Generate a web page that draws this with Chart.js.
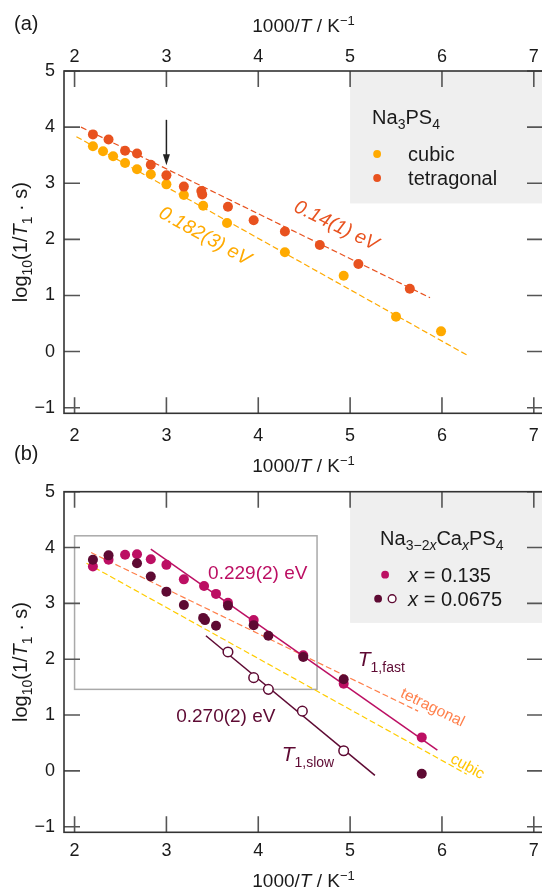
<!DOCTYPE html>
<html>
<head>
<meta charset="utf-8">
<script src="https://cdn.jsdelivr.net/npm/chart.js@4.4.1/dist/chart.umd.min.js"></script>
<style>
  html, body { margin: 0; padding: 0; background: #fff; overflow: hidden; width: 542px; height: 890px; }
  canvas { position: absolute; left: 0; }
  #chartA { top: 0; }
  #chartB { top: 440px; }
</style>
</head>
<body>
<canvas id="chartA" width="560" height="460"></canvas>
<canvas id="chartB" width="560" height="450"></canvas>
<script>
const xTicks = [2, 3, 4, 5, 6, 7];
const yTicks = [-1, 0, 1, 2, 3, 4, 5];

// (a) Na3PS4, log10(1/T1) against 1000/T
const cubicX = [2.20, 2.31, 2.42, 2.55, 2.68, 2.83, 3.00, 3.19, 3.40, 3.66, 4.29, 4.93, 5.50, 5.99];
const cubicY = [3.66, 3.57, 3.48, 3.36, 3.25, 3.16, 2.98, 2.79, 2.60, 2.29, 1.77, 1.35, 0.62, 0.36];
const tetraX = [2.20, 2.37, 2.55, 2.68, 2.83, 3.00, 3.19, 3.38, 3.39, 3.67, 3.95, 4.29, 4.67, 5.09, 5.65];
const tetraY = [3.87, 3.78, 3.58, 3.53, 3.33, 3.14, 2.94, 2.86, 2.80, 2.58, 2.34, 2.14, 1.90, 1.56, 1.12];
const cubicFitX = [2.02, 6.27];
const cubicFitY = [3.83, -0.06];
const tetraFitX = [2.07, 5.87];
const tetraFitY = [4.00, 0.96];
const arrowX = [3.0, 3.0];
const arrowY = [4.13, 3.32];

// (b) Na3-2xCaxPS4
const x135X = [2.20, 2.37, 2.55, 2.68, 2.83, 3.00, 3.19, 3.41, 3.54, 3.67, 3.95, 4.49, 4.93, 5.78];
const x135Y = [3.66, 3.78, 3.87, 3.88, 3.79, 3.69, 3.43, 3.31, 3.17, 3.01, 2.70, 2.07, 1.56, 0.60];
const x0675FastX = [2.20, 2.37, 2.68, 2.83, 3.00, 3.19, 3.40, 3.42, 3.54, 3.67, 3.95, 4.11, 4.49, 4.93, 5.78];
const x0675FastY = [3.78, 3.86, 3.72, 3.48, 3.21, 2.97, 2.74, 2.70, 2.60, 2.96, 2.61, 2.42, 2.04, 1.64, -0.05];
const x0675SlowX = [3.67, 3.95, 4.11, 4.48, 4.93];
const x0675SlowY = [2.13, 1.67, 1.46, 1.07, 0.36];
const fastFitX = [2.83, 5.95];
const fastFitY = [3.97, 0.37];
const slowFitX = [3.43, 5.27];
const slowFitY = [2.42, -0.08];
const tetraRefX = [2.18, 5.74];
const tetraRefY = [3.91, 1.07];
const cubicRefX = [2.13, 6.27];
const cubicRefY = [3.72, -0.06];

const FONT = '"Liberation Sans", Arial, Helvetica, sans-serif';
const INK = '#1a1a1a';
const C_CUBIC = '#ffaa00';
const C_TETRA = '#e8521f';
const C_X135 = '#bc0f63';
const C_X0675 = '#5e0a33';

const pts = (xs, ys) => xs.map((v, i) => ({ x: v, y: ys[i] }));

function dots(data, color, extra) {
  return Object.assign({
    data, showLine: false, pointRadius: 5, pointHoverRadius: 5,
    pointBackgroundColor: color, pointBorderColor: color, pointBorderWidth: 0
  }, extra);
}

function fitLine(data, color, dash, width) {
  return { data, showLine: true, borderColor: color, borderWidth: width, borderDash: dash, pointRadius: 0, fill: false };
}

// text made of runs (sub/superscripts, italics) on one baseline
function rich(ctx, parts, x, y, align, color) {
  const fontOf = p => `${p.it ? 'italic ' : ''}${p.size || 20}px ${FONT}`;
  let w = 0;
  parts.forEach(p => { ctx.font = fontOf(p); p.w = ctx.measureText(p.t).width; w += p.w; });
  let cx = align === 'center' ? x - w / 2 : x;
  ctx.fillStyle = color;
  ctx.textAlign = 'left';
  ctx.textBaseline = 'alphabetic';
  parts.forEach(p => { ctx.font = fontOf(p); ctx.fillText(p.t, cx, y + (p.dy || 0)); cx += p.w; });
}

function rotated(ctx, parts, cx, cy, deg, color) {
  ctx.save();
  ctx.translate(cx, cy);
  ctx.rotate(deg * Math.PI / 180);
  rich(ctx, parts, 0, 6, 'center', color);
  ctx.restore();
}

const xTitle = [{ t: '1000/', size: 19 }, { t: 'T', size: 19, it: true }, { t: ' / K', size: 19 }, { t: '\u22121', size: 13, dy: -7 }];
const yTitle = [{ t: 'log', size: 20 }, { t: '10', size: 14, dy: 5 }, { t: '(1/', size: 20 }, { t: 'T', size: 20, it: true },
  { t: '1', size: 14, dy: 5 }, { t: ' \u00b7 s)', size: 20 }];

function xScale(position, height, pad, showLabels) {
  return {
    type: 'linear', position, min: 1.885, max: 7.1,
    afterBuildTicks: s => { s.ticks = xTicks.map(v => ({ value: v })); },
    afterFit: s => { s.height = height; s.paddingLeft = 0; s.paddingRight = 0; },
    grid: { display: false, drawTicks: false },
    border: { display: false },
    ticks: { display: showLabels, autoSkip: false, maxRotation: 0, padding: pad, color: INK, font: { family: FONT, size: 18 } }
  };
}

function yScale() {
  return {
    type: 'linear', min: -1.1, max: 5,
    afterBuildTicks: s => { s.ticks = yTicks.map(v => ({ value: v })); },
    afterFit: s => { s.width = 64; s.paddingTop = 0; s.paddingBottom = 0; },
    grid: { display: false, drawTicks: false },
    border: { display: false },
    ticks: { padding: 9, color: INK, font: { family: FONT, size: 18 },
      callback: v => (v < 0 ? '\u2212' + Math.abs(v) : String(v)) }
  };
}

// frame with inward ticks on every side, legend panel, titles
function framePlugin(p) {
  return {
    id: 'frame',
    beforeDatasetsDraw(chart) {
      const { ctx, chartArea: a, scales: { x, y } } = chart;
      ctx.save();
      ctx.fillStyle = '#efefef';
      const gx = x.getPixelForValue(5);
      ctx.fillRect(gx, a.top, chart.width - gx, y.getPixelForValue(p.legendBottom) - a.top);
      if (p.inset) {
        const [x0, x1, y0, y1] = p.inset;
        ctx.strokeStyle = '#a9a9a9';
        ctx.lineWidth = 1.5;
        ctx.strokeRect(x.getPixelForValue(x0), y.getPixelForValue(y1),
          x.getPixelForValue(x1) - x.getPixelForValue(x0), y.getPixelForValue(y0) - y.getPixelForValue(y1));
      }
      ctx.restore();
    },
    afterDraw(chart) {
      const { ctx, chartArea: a, scales: { x, y } } = chart;
      const TL = 16;
      ctx.save();
      ctx.strokeStyle = '#555';
      ctx.lineWidth = 1.6;
      ctx.beginPath();
      x.ticks.forEach(t => {
        const px = x.getPixelForValue(t.value);
        ctx.moveTo(px, a.top); ctx.lineTo(px, a.top + TL);
        ctx.moveTo(px, a.bottom); ctx.lineTo(px, a.bottom - TL);
      });
      y.ticks.forEach(t => {
        const py = y.getPixelForValue(t.value);
        ctx.moveTo(a.left, py); ctx.lineTo(a.left + TL, py);
        ctx.moveTo(a.right, py); ctx.lineTo(a.right - TL, py);
      });
      ctx.stroke();
      ctx.strokeStyle = '#333';
      ctx.strokeRect(a.left, a.top, a.right - a.left, a.bottom - a.top);

      const mid = (a.left + a.right) / 2;
      if (p.titleTop != null) rich(ctx, xTitle, mid, p.titleTop, 'center', INK);
      if (p.titleBottom != null) rich(ctx, xTitle, mid, p.titleBottom, 'center', INK);
      rich(ctx, [{ t: p.tag, size: 20 }], 14, p.tagY, 'left', INK);

      ctx.save();
      ctx.translate(27, (a.top + a.bottom) / 2);
      ctx.rotate(-Math.PI / 2);
      rich(ctx, yTitle, 0, 0, 'center', INK);
      ctx.restore();

      // legend
      const lx = x.getPixelForValue(5);
      rich(ctx, p.legendTitle, lx + p.legendTitleDx, a.top + 53, 'left', INK);
      p.legendRows.forEach((row, i) => {
        const base = a.top + 90 + i * 24;
        row.marks.forEach(m => {
          ctx.beginPath();
          ctx.arc(lx + m.dx, base - 7, 3.9, 0, Math.PI * 2);
          if (m.open) {
            ctx.fillStyle = '#fff'; ctx.fill();
            ctx.strokeStyle = m.color; ctx.lineWidth = 1.4; ctx.stroke();
          } else {
            ctx.fillStyle = m.color; ctx.fill();
          }
        });
        rich(ctx, row.text, lx + 58, base, 'left', INK);
      });

      p.notes(ctx, x, y);
      ctx.restore();
    }
  };
}

function makeChart(id, datasets, p) {
  const canvas = document.getElementById(id);
  return new Chart(canvas, {
    type: 'scatter',
    data: { datasets },
    options: {
      responsive: false,
      animation: false,
      events: [],
      layout: { padding: { left: 0, top: 0, bottom: 0, right: canvas.width - 543 } },
      plugins: { legend: { display: false }, tooltip: { enabled: false } },
      scales: {
        x: xScale('bottom', canvas.height - p.bottomAxisY, p.bottomPad, true),
        x2: xScale('top', p.topAxisY, p.topPad, p.topLabels),
        y: yScale()
      }
    },
    plugins: [framePlugin(p)]
  });
}

makeChart('chartA', [
  dots(pts(tetraX, tetraY), C_TETRA),
  dots(pts(cubicX, cubicY), C_CUBIC),
  fitLine(pts(tetraFitX, tetraFitY), C_TETRA, [6, 3], 1.2),
  fitLine(pts(cubicFitX, cubicFitY), C_CUBIC, [6, 3], 1.2)
], {
  topAxisY: 71, bottomAxisY: 413.3, topPad: 3, bottomPad: 12, topLabels: true,
  titleTop: 31.5, titleBottom: null, tag: '(a)', tagY: 29.5,
  legendBottom: 2.64, legendTitleDx: 22,
  legendTitle: [{ t: 'Na' }, { t: '3', size: 14, dy: 5 }, { t: 'PS' }, { t: '4', size: 14, dy: 5 }],
  legendRows: [
    { marks: [{ dx: 27, color: C_CUBIC }], text: [{ t: 'cubic' }] },
    { marks: [{ dx: 27, color: C_TETRA }], text: [{ t: 'tetragonal' }] }
  ],
  notes(ctx, x, y) {
    rotated(ctx, [{ t: '0.182(3) eV', it: true, size: 19.5 }], x.getPixelForValue(3.42), y.getPixelForValue(2.06), 29, C_CUBIC);
    rotated(ctx, [{ t: '0.14(1) eV', it: true, size: 19.5 }], x.getPixelForValue(4.85), y.getPixelForValue(2.25), 26, C_TETRA);
    // temperature marker arrow
    const ax = x.getPixelForValue(arrowX[0]);
    const y0 = y.getPixelForValue(arrowY[0]), y1 = y.getPixelForValue(arrowY[1]);
    ctx.strokeStyle = '#222';
    ctx.lineWidth = 1.5;
    ctx.beginPath(); ctx.moveTo(ax, y0); ctx.lineTo(ax, y1 - 8); ctx.stroke();
    ctx.fillStyle = '#222';
    ctx.beginPath(); ctx.moveTo(ax - 3.5, y1 - 11); ctx.lineTo(ax + 3.5, y1 - 11); ctx.lineTo(ax, y1); ctx.closePath(); ctx.fill();
  }
});

makeChart('chartB', [
  dots(pts(x0675SlowX, x0675SlowY), C_X0675, { pointBackgroundColor: '#fff', pointBorderWidth: 1.5, pointRadius: 4.8 }),
  dots(pts(x0675FastX, x0675FastY), C_X0675),
  dots(pts(x135X, x135Y), C_X135),
  fitLine(pts(fastFitX, fastFitY), C_X135, [], 1.5),
  fitLine(pts(slowFitX, slowFitY), C_X0675, [], 1.5),
  fitLine(pts(tetraRefX, tetraRefY), '#ff7f4a', [6, 3], 1.2),
  fitLine(pts(cubicRefX, cubicRefY), '#ffcc00', [6, 3], 1.2)
], {
  topAxisY: 51.7, bottomAxisY: 392.3, topPad: 3, bottomPad: 8, topLabels: false,
  titleTop: 31.7, titleBottom: 447, tag: '(b)', tagY: 19.5,
  legendBottom: 2.65, legendTitleDx: 30, inset: [2.0, 4.64, 1.46, 4.21],
  legendTitle: [{ t: 'Na' }, { t: '3\u22122', size: 14, dy: 5 }, { t: 'x', size: 14, dy: 5, it: true }, { t: 'Ca' },
    { t: 'x', size: 14, dy: 5, it: true }, { t: 'PS' }, { t: '4', size: 14, dy: 5 }],
  legendRows: [
    { marks: [{ dx: 35, color: C_X135 }], text: [{ t: 'x', it: true }, { t: ' = 0.135' }] },
    { marks: [{ dx: 28, color: C_X0675 }, { dx: 42, color: C_X0675, open: true }], text: [{ t: 'x', it: true }, { t: ' = 0.0675' }] }
  ],
  notes(ctx, x, y) {
    rich(ctx, [{ t: '0.229(2) eV', size: 19 }], x.getPixelForValue(3.454), y.getPixelForValue(3.436), 'left', C_X135);
    rich(ctx, [{ t: '0.270(2) eV', size: 19 }], x.getPixelForValue(3.106), y.getPixelForValue(0.875), 'left', C_X0675);
    rich(ctx, [{ t: 'T', it: true, size: 21 }, { t: '1,fast', size: 14, dy: 6 }], x.getPixelForValue(5.083), y.getPixelForValue(1.878), 'left', C_X0675);
    rich(ctx, [{ t: 'T', it: true, size: 21 }, { t: '1,slow', size: 14, dy: 6 }], x.getPixelForValue(4.255), y.getPixelForValue(0.177), 'left', C_X0675);
    rotated(ctx, [{ t: 'tetragonal', size: 15.5 }], x.getPixelForValue(5.904), y.getPixelForValue(1.157), 26, '#ff7f4a');
    rotated(ctx, [{ t: 'cubic', size: 15.5 }], x.getPixelForValue(6.285), y.getPixelForValue(0.10), 29, '#ffc400');
  }
});
</script>
</body>
</html>
